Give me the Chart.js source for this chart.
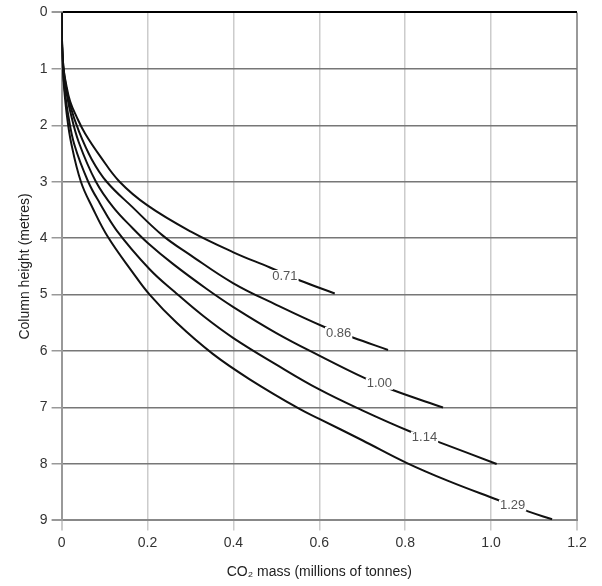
<!DOCTYPE html>
<html>
<head>
<meta charset="utf-8">
<script src="https://cdn.jsdelivr.net/npm/chart.js@4/dist/chart.umd.min.js"></script>
<style>
    html, body { margin: 0; padding: 0; background: #fff; }
    #wrap { width: 602px; height: 586px; }
</style>
</head>
<body>
<div id="wrap"><canvas id="co2Chart" width="602" height="586"></canvas></div>
<script>
// --- DATA ---
const xTicks = [0, 0.2, 0.4, 0.6, 0.8, 1.0, 1.2];
const yTicks = [0, 1, 2, 3, 4, 5, 6, 7, 8, 9];

const mass071   = [0, 0.001, 0.004, 0.01, 0.02, 0.035, 0.055, 0.09, 0.135, 0.2, 0.3, 0.4, 0.485, 0.555, 0.636];
const height071 = [0, 0.5, 0.95, 1.25, 1.58, 1.85, 2.15, 2.55, 3.0, 3.42, 3.88, 4.25, 4.52, 4.75, 4.98];

const mass086   = [0, 0.001, 0.004, 0.01, 0.02, 0.04, 0.07, 0.105, 0.165, 0.235, 0.3, 0.4, 0.5, 0.608, 0.678, 0.76];
const height086 = [0, 0.5, 0.95, 1.3, 1.65, 2.1, 2.6, 3.0, 3.45, 3.95, 4.3, 4.8, 5.18, 5.56, 5.76, 5.98];

const mass100   = [0, 0.001, 0.004, 0.01, 0.02, 0.04, 0.08, 0.12, 0.165, 0.2, 0.26, 0.338, 0.4, 0.5, 0.6, 0.706, 0.771, 0.888];
const height100 = [0, 0.55, 1.0, 1.35, 1.75, 2.3, 3.0, 3.45, 3.82, 4.08, 4.46, 4.9, 5.22, 5.68, 6.08, 6.48, 6.69, 7.0];

const mass114   = [0, 0.001, 0.003, 0.007, 0.015, 0.03, 0.062, 0.089, 0.128, 0.205, 0.263, 0.33, 0.4, 0.5, 0.6, 0.7, 0.81, 0.874, 1.013];
const height114 = [0, 0.6, 0.95, 1.35, 1.8, 2.35, 3.0, 3.38, 3.86, 4.55, 4.95, 5.38, 5.77, 6.24, 6.68, 7.05, 7.42, 7.6, 8.0];

const mass129   = [0, 0.001, 0.003, 0.006, 0.012, 0.022, 0.045, 0.072, 0.108, 0.165, 0.205, 0.268, 0.352, 0.438, 0.555, 0.6, 0.7, 0.803, 0.9, 1.013, 1.086, 1.142];
const height129 = [0, 0.6, 1.0, 1.35, 1.8, 2.3, 3.0, 3.46, 3.98, 4.6, 5.0, 5.5, 6.05, 6.5, 7.03, 7.2, 7.58, 7.98, 8.3, 8.63, 8.84, 8.98];

// inline curve labels
const curveLabels = ["0.71", "0.86", "1.00", "1.14", "1.29"];
const labelMass   = [0.52, 0.645, 0.74, 0.845, 1.05];
const labelHeight = [4.67, 5.68, 6.58, 7.53, 8.74];

const FONT = "'Liberation Sans', Arial, sans-serif";

function toPoints(xs, ys) {
    return xs.map((x, i) => ({ x: x, y: ys[i] }));
}

function curve(xs, ys) {
    return {
        data: toPoints(xs, ys),
        borderColor: "#111",
        borderWidth: 2,
        pointRadius: 0,
        showLine: true,
        fill: false,
        tension: 0.4
    };
}

// draws the value next to each curve, breaking the line behind it
const curveLabelPlugin = {
    id: "curveLabels",
    afterDatasetsDraw(chart) {
        const ctx = chart.ctx;
        const xs = chart.scales.x, ys = chart.scales.y;
        ctx.save();
        ctx.font = "13px " + FONT;
        ctx.textAlign = "center";
        ctx.textBaseline = "middle";
        curveLabels.forEach((t, i) => {
            const px = xs.getPixelForValue(labelMass[i]);
            const py = ys.getPixelForValue(labelHeight[i]);
            const w = ctx.measureText(t).width;
            ctx.fillStyle = "#fff";
            ctx.fillRect(px - w / 2 - 1, py - 6, w + 2, 12);
            ctx.fillStyle = "#555";
            ctx.fillText(t, px, py);
        });
        ctx.restore();
    }
};

new Chart(document.getElementById("co2Chart"), {
    type: "scatter",
    data: {
        datasets: [
            curve(mass071, height071),
            curve(mass086, height086),
            curve(mass100, height100),
            curve(mass114, height114),
            curve(mass129, height129)
        ]
    },
    options: {
        responsive: false,
        animation: false,
        layout: { padding: { left: 17, right: 25, top: 2, bottom: 5 } },
        plugins: {
            legend: { display: false },
            tooltip: { enabled: false }
        },
        scales: {
            x: {
                type: "linear",
                min: 0, max: 1.2,
                afterBuildTicks: axis => { axis.ticks = xTicks.map(v => ({ value: v })); },
                ticks: {
                    color: "#333",
                    font: { family: FONT, size: 14 },
                    padding: 4,
                    callback: v => v === 0 ? "0" : v.toFixed(1)
                },
                grid: {
                    color: ctx => (ctx.tick && (ctx.tick.value === 0 || ctx.tick.value === 1.2)) ? "#999" : "#ccc",
                    lineWidth: ctx => (ctx.tick && (ctx.tick.value === 0 || ctx.tick.value === 1.2)) ? 2 : 1.5,
                    tickLength: 10,
                    tickColor: "#ccc"
                },
                border: { display: true, color: "#888", width: 2 },
                title: {
                    display: true,
                    text: "CO\u2082 mass (millions of tonnes)",
                    color: "#222",
                    font: { family: FONT, size: 14 },
                    padding: { top: 9, bottom: 0 }
                }
            },
            y: {
                type: "linear",
                reverse: true,
                min: 0, max: 9,
                afterBuildTicks: axis => { axis.ticks = yTicks.map(v => ({ value: v })); },
                ticks: {
                    color: "#333",
                    font: { family: FONT, size: 14 },
                    padding: 4
                },
                grid: {
                    color: ctx => (ctx.tick && ctx.tick.value === 0) ? "#000" : "#777",
                    lineWidth: ctx => (ctx.tick && (ctx.tick.value === 0 || ctx.tick.value === 9)) ? 2 : 1.5,
                    tickLength: 10,
                    tickColor: "#999"
                },
                border: { display: true, color: "#999", width: 2 },
                title: {
                    display: true,
                    text: "Column height (metres)",
                    color: "#222",
                    font: { family: FONT, size: 14 },
                    padding: { top: 0, bottom: 2 }
                }
            }
        }
    },
    plugins: [curveLabelPlugin]
});
</script>
</body>
</html>
